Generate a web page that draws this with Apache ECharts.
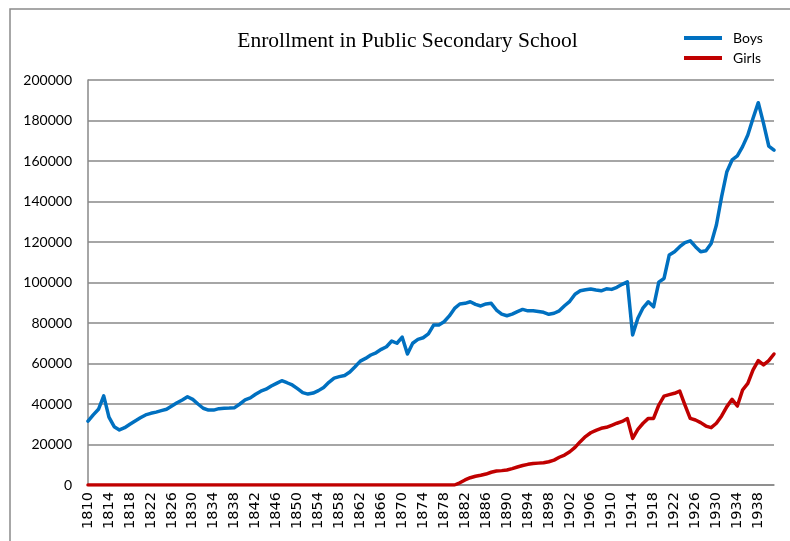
<!DOCTYPE html>
<html>
<head>
<meta charset="utf-8">
<script src="https://cdn.jsdelivr.net/npm/echarts@6/dist/echarts.min.js"></script>
<style>html,body{margin:0;padding:0;background:#fff}#c{width:790px;height:541px}</style>
</head>
<body>
<div id="c"></div>
<script>
const titleText = 'Enrollment in Public Secondary School';
const seriesNames = ['Boys', 'Girls'];
const years = ['1810','1811','1812','1813','1814','1815','1816','1817','1818','1819',
'1820','1821','1822','1823','1824','1825','1826','1827','1828','1829',
'1830','1831','1832','1833','1834','1835','1836','1837','1838','1839',
'1840','1841','1842','1843','1844','1845','1846','1847','1848','1849',
'1850','1851','1852','1853','1854','1855','1856','1857','1858','1859',
'1860','1861','1862','1863','1864','1865','1866','1867','1868','1869',
'1870','1871','1872','1873','1874','1875','1876','1877','1878','1879',
'1880','1881','1882','1883','1884','1885','1886','1887','1888','1889',
'1890','1891','1892','1893','1894','1895','1896','1897','1898','1899',
'1900','1901','1902','1903','1904','1905','1906','1907','1908','1909',
'1910','1911','1912','1913','1914','1915','1916','1917','1918','1919',
'1920','1921','1922','1923','1924','1925','1926','1927','1928','1929',
'1930','1931','1932','1933','1934','1935','1936','1937','1938','1939',
'1940','1941'];
const boys = [31500,34600,37400,44000,33500,28800,27200,28300,30000,31600,
33200,34600,35400,36000,36700,37400,39000,40600,42000,43600,
42300,40000,37900,37000,37000,37700,37900,38000,38200,40000,
42000,43000,44800,46300,47300,48900,50200,51500,50500,49400,
47600,45600,44900,45400,46600,48200,50700,52800,53500,54100,
55800,58400,61200,62500,64200,65300,67000,68300,71100,70000,
73000,64700,70000,71900,72700,74600,79000,79000,80600,83500,
87200,89400,89700,90500,89200,88400,89400,89700,86400,84400,
83600,84400,85600,86700,86000,86000,85700,85300,84300,84800,
86000,88500,90700,94200,95900,96400,96800,96300,95900,96900,
96600,97600,99100,100300,74100,82300,87500,90500,88000,100200,
102000,113600,115200,117700,119700,120600,117700,115200,115700,119300,
128400,142400,154700,160500,162500,167100,172800,181100,188800,178600,
167400,165400];
const girls = [0,0,0,0,0,0,0,0,0,0,
0,0,0,0,0,0,0,0,0,0,
0,0,0,0,0,0,0,0,0,0,
0,0,0,0,0,0,0,0,0,0,
0,0,0,0,0,0,0,0,0,0,
0,0,0,0,0,0,0,0,0,0,
0,0,0,0,0,0,0,0,0,0,
0,1100,2500,3600,4300,4800,5400,6300,6900,7100,
7400,8100,8900,9600,10200,10600,10800,11000,11500,12300,
13700,14800,16400,18600,21400,23900,25800,27000,28000,28500,
29500,30500,31400,32800,23000,27500,30500,32900,32900,39500,
43900,44600,45300,46400,39500,32900,32100,30800,29100,28300,
30500,34100,38700,42300,39000,46900,50200,56800,61400,59300,
61400,64700];

const chart = echarts.init(document.getElementById('c'), null, {renderer: 'canvas'});
chart.setOption({
  backgroundColor: '#ffffff',
  animation: false,
  graphic: [
    {type: 'rect', shape: {x: 10, y: 9, width: 900, height: 700}, style: {fill: 'none', stroke: '#8a8a8a', lineWidth: 1.5}, silent: true, z: 0},
    {type: 'text', x: 407.5, y: 41, style: {text: titleText, fontFamily: 'Liberation Serif', fontSize: 21.5, fill: '#000', align: 'center', verticalAlign: 'middle'}, z: 10}
  ],
  legend: {
    orient: 'vertical', left: 679, top: 26, itemWidth: 38, itemHeight: 4, itemGap: 6,
    icon: 'rect',
    textStyle: {fontFamily: 'Lato', fontSize: 14, color: '#000', padding: [0, 0, 0, 6]},
    data: seriesNames
  },
  grid: {left: 88, top: 80, right: 16, bottom: 56, containLabel: false},
  xAxis: {
    type: 'category', data: years, boundaryGap: false,
    axisLine: {show: true, lineStyle: {color: '#888', width: 1.5}},
    axisTick: {show: false},
    axisLabel: {interval: 3, rotate: 90, margin: 7, fontFamily: 'DejaVu Sans', fontSize: 14.5, color: '#000'},
    splitLine: {show: false}
  },
  yAxis: {
    type: 'value', min: 0, max: 200000, interval: 20000,
    axisLine: {show: true, lineStyle: {color: '#888', width: 1.5}},
    axisTick: {show: false},
    axisLabel: {margin: 16, fontFamily: 'Lato', fontSize: 14, color: '#000', formatter: function (v) { return String(v); }},
    splitLine: {show: true, lineStyle: {color: '#888', width: 1.5}}
  },
  series: [
    {name: seriesNames[0], type: 'line', data: boys, symbol: 'none', color: '#0070C0',
     lineStyle: {width: 3.5, color: '#0070C0', cap: 'round', join: 'round'}, z: 3},
    {name: seriesNames[1], type: 'line', data: girls, symbol: 'none', color: '#C00000',
     lineStyle: {width: 3.5, color: '#C00000', cap: 'round', join: 'round'}, z: 4}
  ]
});
</script>
</body>
</html>
